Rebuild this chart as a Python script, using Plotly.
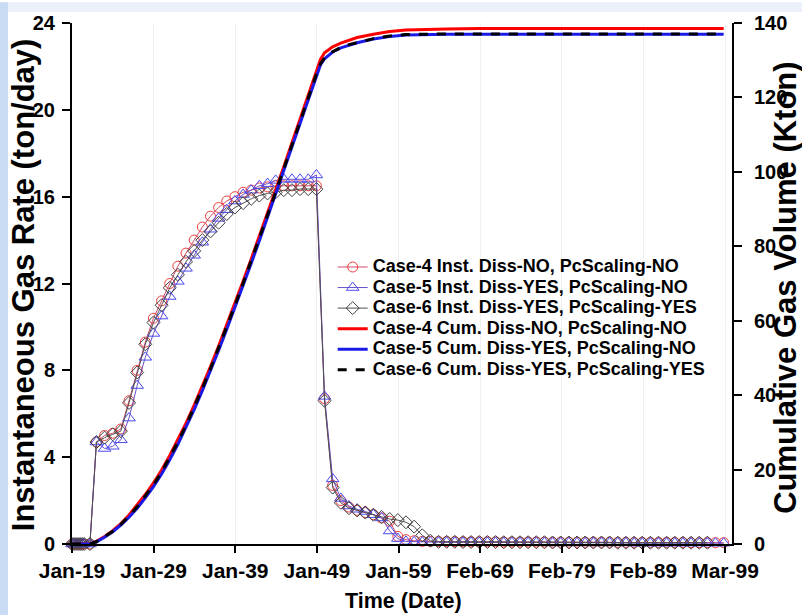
import pandas as pd
import plotly.graph_objects as go

# ---------------- data ----------------
start_date = pd.Timestamp("2019-01-01")

# sample times for the instantaneous rates (years after start)
rate_years = [0, 0.25, 0.5, 0.75, 1.0, 1.25, 1.5, 2.2,
              3, 4, 5, 6, 7, 8, 9, 10, 11, 12, 13, 14, 15, 16, 17, 18, 19, 20,
              21, 22, 23, 24, 25, 26, 27, 28, 29, 30,
              31, 32, 33, 34, 35, 36, 37, 38, 39, 40, 41, 42,
              43, 44, 45, 46, 47, 48, 49, 50, 51, 52, 53, 54, 55, 56, 57, 58, 59, 60,
              61, 62, 63, 64, 65, 66, 67, 68, 69, 70, 71, 72, 73, 74, 75, 76, 77, 78, 79, 80]

# instantaneous gas rate (ton/day)
case4_rate = [0, 0, 0, 0, 0, 0, 0, 0,
              4.7, 5.0, 5.1, 5.3, 6.6, 8.0, 9.3, 10.4, 11.2, 12.0, 12.8, 13.4, 14.0, 14.6, 15.1, 15.5, 15.8, 16.0,
              16.2, 16.3, 16.4, 16.45, 16.5, 16.5, 16.5, 16.5, 16.5, 16.5,
              6.7, 2.7, 2.0, 1.7, 1.55, 1.45, 1.35, 1.2, 1.05, 0.35, 0.2, 0.15,
              0.12, 0.12, 0.11, 0.11, 0.11, 0.1, 0.1, 0.1, 0.1, 0.1, 0.09, 0.09, 0.09, 0.09, 0.09, 0.09, 0.08, 0.08,
              0.08, 0.08, 0.08, 0.08, 0.08, 0.08, 0.07, 0.07, 0.07, 0.07, 0.07, 0.07, 0.07, 0.07, 0.07, 0.06, 0.06, 0.06, 0.06, 0.06]
case5_rate = [0, 0, 0, 0, 0, 0, 0, 0,
              4.7, 4.4, 4.5, 4.8, 5.8, 7.3, 8.6, 9.7, 10.5, 11.4, 12.1, 12.7, 13.3, 13.9, 14.5, 15.0, 15.4, 15.8,
              16.1, 16.3, 16.5, 16.6, 16.75, 16.8, 16.8, 16.8, 16.8, 17.0,
              6.8, 3.0, 2.1, 1.75, 1.6, 1.5, 1.35, 1.2, 0.6, 0.25, 0.12, 0.1,
              0.09, 0.09, 0.08, 0.08, 0.08, 0.07, 0.07, 0.07, 0.07, 0.07, 0.06, 0.06, 0.06, 0.06, 0.06, 0.06, 0.05, 0.05,
              0.05, 0.05, 0.05, 0.05, 0.05, 0.05, 0.05, 0.05, 0.04, 0.04, 0.04, 0.04, 0.04, 0.04, 0.04, 0.04, 0.04, 0.04, 0.04, 0.04]
case6_rate = [0, 0, 0, 0, 0, 0, 0, 0,
              4.7, 4.9, 5.05, 5.2, 6.5, 7.9, 9.2, 10.2, 11.0, 11.8, 12.4, 13.0, 13.5, 14.0, 14.4, 14.8, 15.2, 15.5,
              15.7, 15.9, 16.05, 16.15, 16.2, 16.3, 16.3, 16.35, 16.35, 16.35,
              6.6, 2.6, 1.9, 1.65, 1.55, 1.45, 1.35, 1.25, 1.15, 1.1, 1.0, 0.8,
              0.4, 0.15, 0.1, 0.1, 0.1, 0.09, 0.09, 0.09, 0.09, 0.09, 0.08, 0.08, 0.08, 0.08, 0.08, 0.08, 0.07, 0.07,
              0.07, 0.07, 0.07, 0.07, 0.07, 0.07, 0.06, 0.06, 0.06, 0.06, 0.06, 0.06, 0.06, 0.06, 0.06, 0.06, 0.06, 0.06]

# sample times for the cumulative volumes (years after start)
cum_years = [0, 1, 2, 2.2,
             3, 4, 5, 6, 7, 8, 9, 10, 11, 12, 13, 14, 15, 16, 17, 18, 19, 20,
             21, 22, 23, 24, 25, 26, 27, 28, 29, 30,
             30.5, 31, 32, 33, 34, 35, 37, 39, 41, 43, 46, 50, 60, 70, 80]

# cumulative gas volume (Kton)
case4_cum = [0, 0, 0, 0,
             0.7, 2.0, 3.6, 5.5, 7.8, 10.4, 13.3, 16.4, 19.9, 23.8, 28.0, 32.5, 37.3, 42.4, 47.7, 53.2, 58.9, 64.7,
             70.6, 76.6, 82.7, 88.9, 95.1, 101.4, 107.8, 114.2, 120.6, 127.0,
             130.2, 132.0, 133.6, 134.6, 135.4, 136.1, 137.0, 137.7, 138.1, 138.3, 138.4, 138.5, 138.5, 138.5, 138.5]
case5_cum = [0, 0, 0, 0,
             0.6, 1.8, 3.3, 5.1, 7.2, 9.6, 12.4, 15.4, 18.8, 22.6, 26.8, 31.3, 36.1, 41.2, 46.5, 52.0, 57.7, 63.5,
             69.4, 75.4, 81.5, 87.7, 93.9, 100.2, 106.6, 113.0, 119.3, 125.6,
             128.7, 130.4, 132.2, 133.3, 134.1, 134.7, 135.7, 136.4, 136.8, 136.95, 137.0, 137.0, 137.0, 137.0, 137.0]
case6_cum = [0, 0, 0, 0,
             0.6, 1.9, 3.4, 5.3, 7.5, 10.0, 12.8, 15.9, 19.3, 23.2, 27.4, 31.9, 36.7, 41.8, 47.1, 52.6, 58.3, 64.1,
             70.0, 76.0, 82.1, 88.3, 94.5, 100.8, 107.2, 113.6, 119.9, 126.2,
             129.0, 130.6, 132.3, 133.4, 134.2, 134.8, 135.8, 136.5, 136.9, 137.0, 137.05, 137.05, 137.05, 137.05, 137.05]

tick_labels = ["Jan-19", "Jan-29", "Jan-39", "Jan-49", "Jan-59",
               "Feb-69", "Feb-79", "Feb-89", "Mar-99"]
tick_step_days = 3660

rate_names = ["Case-4 Inst. Diss-NO, PcScaling-NO",
              "Case-5 Inst. Diss-YES, PcScaling-NO",
              "Case-6 Inst. Diss-YES, PcScaling-YES"]
cum_names = ["Case-4 Cum. Diss-NO, PcScaling-NO",
             "Case-5 Cum. Diss-YES, PcScaling-NO",
             "Case-6 Cum. Diss-YES, PcScaling-YES"]


def to_dates(years):
    return [start_date + pd.Timedelta(days=y * 365.25) for y in years]


def legend_label(text):
    # larger glyphs inside a compact legend row
    return f'<span style="font-size:18px">{text}</span>'


rate_dates = to_dates(rate_years)
cum_dates = to_dates(cum_years)
tick_dates = [start_date + pd.Timedelta(days=tick_step_days * k) for k in range(len(tick_labels))]

FONT = "Arial, Liberation Sans, sans-serif"

fig = go.Figure()

# instantaneous rates: open markers joined by thin lines
rate_styles = [
    dict(symbol="circle-open", color="#f03c3c", size=10),
    dict(symbol="triangle-up-open", color="#4a4af0", size=11),
    dict(symbol="diamond-open", color="#404040", size=10),
]
line_colors = ["#d04a6a", "#6a50c8", "#505050"]
for name, vals, st, lc in zip(rate_names, [case4_rate, case5_rate, case6_rate], rate_styles, line_colors):
    fig.add_trace(go.Scatter(
        x=rate_dates, y=vals, name=legend_label(name), mode="lines+markers",
        line=dict(color=lc, width=1),
        marker=dict(symbol=st["symbol"], size=st["size"], color=st["color"],
                    line=dict(width=1, color=st["color"])),
        cliponaxis=False, yaxis="y"))

# cumulative volumes on the secondary axis
fig.add_trace(go.Scatter(x=cum_dates, y=case4_cum, name=legend_label(cum_names[0]), mode="lines",
                         line=dict(color="#ff0000", width=3), yaxis="y2"))
fig.add_trace(go.Scatter(x=cum_dates, y=case5_cum, name=legend_label(cum_names[1]), mode="lines",
                         line=dict(color="#1a1ae6", width=3), yaxis="y2"))
fig.add_trace(go.Scatter(x=cum_dates, y=case6_cum, name=legend_label(cum_names[2]), mode="lines",
                         line=dict(color="#000000", width=3, dash="dash"), yaxis="y2"))

x_end = start_date + pd.Timedelta(days=29594)

fig.update_layout(
    width=802, height=615,
    margin=dict(l=72, r=70, t=18, b=71),
    paper_bgcolor="white", plot_bgcolor="white",
    font=dict(family=FONT, size=19, color="black", weight="bold"),
    showlegend=True,
    legend=dict(x=0.395, y=0.561, xanchor="left", yanchor="top",
                bgcolor="rgba(0,0,0,0)", font=dict(size=13.5, family=FONT, weight="bold"),
                tracegroupgap=0, itemwidth=30),
    xaxis=dict(type="date", range=[start_date, x_end],
               tickvals=tick_dates, ticktext=tick_labels,
               showline=True, linecolor="black", linewidth=2,
               ticks="outside", ticklen=7, tickwidth=2, tickcolor="black",
               showgrid=True, gridcolor="#f0f0f0", gridwidth=1, zeroline=False,
               tickfont=dict(size=21, family=FONT, weight="bold")),
    yaxis=dict(range=[0, 24], dtick=4, showline=True, linecolor="black", linewidth=2,
               ticks="outside", ticklen=8, tickwidth=2, tickcolor="black",
               ticklabelstandoff=3,
               showgrid=False, zeroline=False,
               tickfont=dict(size=20, family=FONT, weight="bold")),
    yaxis2=dict(range=[0, 140], dtick=20, overlaying="y", side="right",
                showline=True, linecolor="black", linewidth=2,
                ticks="outside", ticklen=8, tickwidth=2, tickcolor="black",
                ticklabelstandoff=8,
                showgrid=False, zeroline=False,
                tickfont=dict(size=20, family=FONT, weight="bold")),
    annotations=[
        dict(text="Instantaneous Gas Rate (ton/day)", xref="paper", yref="paper",
             x=-0.074, y=0.497, xanchor="center", yanchor="middle", textangle=-90, showarrow=False,
             font=dict(size=31, family=FONT, weight="bold")),
        dict(text="Cumulative Gas Volume (Kton)", xref="paper", yref="paper",
             x=1.082, y=0.492, xanchor="center", yanchor="middle", textangle=-90, showarrow=False,
             font=dict(size=31, family=FONT, weight="bold")),
        dict(text="Time (Date)", xref="paper", yref="paper",
             x=0.503, y=-0.110, xanchor="center", yanchor="middle", showarrow=False,
             font=dict(size=21.5, family=FONT, weight="bold")),
    ],
    shapes=[
        dict(type="rect", xref="paper", yref="paper", x0=-0.11, x1=1.11, y0=1.021, y1=1.04,
             fillcolor="#eaf1fb", line=dict(width=0), layer="below"),
        dict(type="rect", xref="paper", yref="paper", x0=-0.11, x1=-0.097, y0=-0.14, y1=1.04,
             fillcolor="#c9dcf4", line=dict(width=0), layer="below"),
    ],
)

fig.write_html("out.html")
